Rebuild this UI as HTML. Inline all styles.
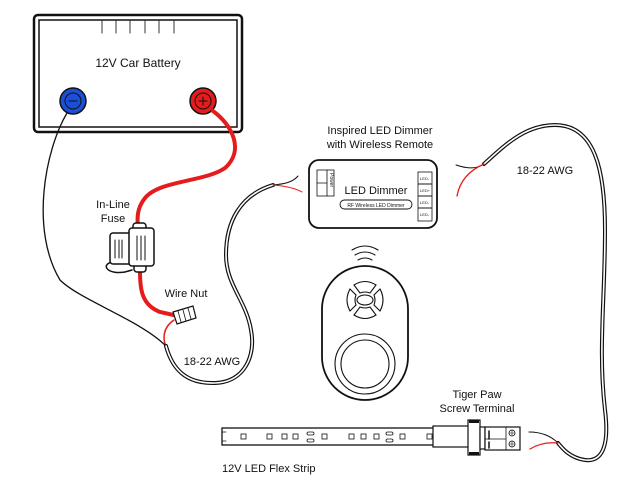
<!DOCTYPE html>
<html><head><style>html,body{margin:0;padding:0;background:#fff;}svg{display:block}</style></head>
<body>
<svg width="640" height="480" viewBox="0 0 640 480" xmlns="http://www.w3.org/2000/svg" font-family="'Liberation Sans', sans-serif" fill="none" stroke-linecap="round">
<!-- Battery -->
<rect x="34" y="15" width="208" height="117" rx="4" stroke="#111" stroke-width="2.5" fill="#fff"/>
<rect x="39" y="20" width="198" height="107" stroke="#111" stroke-width="1.5"/>
<g stroke="#333" stroke-width="1"><line x1="102" y1="21" x2="102" y2="33"/><line x1="116" y1="21" x2="116" y2="33"/><line x1="130" y1="21" x2="130" y2="33"/><line x1="145" y1="21" x2="145" y2="33"/><line x1="159" y1="21" x2="159" y2="33"/><line x1="174" y1="21" x2="174" y2="33"/></g>
<text x="138" y="67" font-size="12" fill="#111" text-anchor="middle">12V Car Battery</text>
<circle cx="73" cy="101" r="13" fill="#1a4fd8" stroke="#111" stroke-width="1.5"/>
<circle cx="73" cy="101" r="8" stroke="#111" stroke-width="1"/>
<line x1="69" y1="101" x2="77" y2="101" stroke="#111"/>
<circle cx="203" cy="101" r="13" fill="#e51c1c" stroke="#111" stroke-width="1.5"/>
<circle cx="203" cy="101" r="8" stroke="#111" stroke-width="1"/>
<path d="M199 101h8M203 97v8" stroke="#111"/>
<!-- red main wire -->
<path d="M213 111 C232 125 245 150 225 168 C205 182 160 180 145 198 C137 208 137 218 138 226" stroke="#e51c1c" stroke-width="4"/>
<path d="M140 272 C140 290 142 305 160 312 L178 316" stroke="#e51c1c" stroke-width="4"/>
<path d="M174 320 C162 328 163 340 166 346" stroke="#e51c1c" stroke-width="1.5"/>
<!-- black wire -->
<path d="M67 113 C45 150 30 230 60 280 C80 300 140 320 166 346" stroke="#111" stroke-width="1.3"/>
<!-- fuse -->
<g stroke="#111" stroke-width="1.5" fill="#fff">
<path d="M112 262 C100 265 108 275 125 272 L132 270"/>
<rect x="133" y="223" width="13" height="10" rx="3"/>
<rect x="134" y="262" width="12" height="10" rx="3"/>
<rect x="110" y="233" width="22" height="31" rx="3"/>
<rect x="129" y="228" width="25" height="38" rx="3"/>
<path d="M115 240v18M119 240v18M122 240v18M137 236v24M141 236v24M145 236v24" stroke-width="1"/>
</g>
<!-- wire nut -->
<g stroke="#111" stroke-width="1.2" fill="#fff"><path d="M173 312 L193 306 L196 318 L177 324 Z"/><path d="M178 311l3 11M183 310l3 11M188 308l3 11" stroke-width="0.8"/></g>
<!-- left cable -->
<path id="lc" d="M166 346 C172 368 185 384 215 383 C245 382 256 355 251 330 C246 300 226 285 226 255 C226 222 240 195 273 185" stroke="#111" stroke-width="4"/>
<path d="M166 346 C172 368 185 384 215 383 C245 382 256 355 251 330 C246 300 226 285 226 255 C226 222 240 195 273 185" stroke="#fff" stroke-width="1.6"/>
<path d="M273 185 C285 184 293 182 298 176" stroke="#111" stroke-width="1"/>
<path d="M273 185 C285 186 295 188 302 192" stroke="#e51c1c" stroke-width="1"/>
<!-- labels -->
<g fill="#111" font-size="11" text-anchor="middle">
<text x="113" y="208">In-Line</text><text x="113" y="222">Fuse</text>
<text x="186" y="297">Wire Nut</text>
<text x="212" y="365">18-22 AWG</text>
<text x="380" y="134">Inspired LED Dimmer</text>
<text x="380" y="148">with Wireless Remote</text>
<text x="545" y="174">18-22 AWG</text>
<text x="477" y="398">Tiger Paw</text>
<text x="477" y="412">Screw Terminal</text>
</g>
<text x="222" y="472" font-size="11" fill="#111">12V LED Flex Strip</text>
<!-- dimmer -->
<rect x="309" y="160" width="128" height="68" rx="10" stroke="#111" stroke-width="1.8" fill="#fff"/>
<rect x="317" y="170" width="17" height="26" stroke="#111" stroke-width="0.8"/>
<line x1="317" y1="183" x2="327" y2="183" stroke="#111" stroke-width="0.8"/><line x1="327" y1="170" x2="327" y2="196" stroke="#111" stroke-width="0.8"/>
<text x="330" y="173" font-size="5" fill="#111" transform="rotate(90 330 173)">Power</text>
<g stroke="#111" stroke-width="0.8"><rect x="418" y="172" width="14" height="12"/><rect x="418" y="184" width="14" height="12"/><rect x="418" y="196" width="14" height="12"/><rect x="418" y="208" width="14" height="13"/></g>
<g font-size="4" fill="#111"><text x="420" y="180">LED-</text><text x="420" y="192">LED+</text><text x="420" y="204">LED-</text><text x="420" y="216">LED-</text></g>
<text x="376" y="194" font-size="11" fill="#111" text-anchor="middle">LED Dimmer</text>
<rect x="340" y="200" width="72" height="9" rx="4.5" stroke="#111" stroke-width="0.9"/>
<text x="376" y="207" font-size="5" fill="#111" text-anchor="middle">RF Wireless LED Dimmer</text>
<!-- right cable -->
<path d="M484 164 C505 145 525 125 555 125 C595 125 605 170 605 230 C605 300 598 350 605 410 C610 450 600 462 585 460 C570 458 562 448 558 443" stroke="#111" stroke-width="4"/>
<path d="M484 164 C505 145 525 125 555 125 C595 125 605 170 605 230 C605 300 598 350 605 410 C610 450 600 462 585 460 C570 458 562 448 558 443" stroke="#fff" stroke-width="1.6"/>
<path d="M484 164 C475 170 465 168 456 165" stroke="#111" stroke-width="1"/>
<path d="M484 164 C470 170 460 180 457 196" stroke="#e51c1c" stroke-width="1.3"/>
<path d="M558 443 C550 435 540 432 529 432" stroke="#111" stroke-width="1"/>
<path d="M558 443 C548 442 538 444 530 449" stroke="#e51c1c" stroke-width="1.3"/>
<!-- remote -->
<g stroke="#111" stroke-width="1.1">
<path d="M352 250 Q365 242 378 250M355 255 Q365 249 375 255M358 260 Q365 256 372 260"/>
<rect x="322" y="266" width="86" height="134" rx="43" stroke-width="1.8" fill="#fff"/>
<ellipse cx="365" cy="300" rx="8" ry="5"/>
<path d="M354 285 Q365 278 376 285 L370 293 Q365 291 360 293 Z"/>
<path d="M354 315 Q365 322 376 315 L370 307 Q365 309 360 307 Z"/>
<path d="M350 289 Q344 300 350 311 L356 305 Q354 300 356 295 Z"/>
<path d="M380 289 Q386 300 380 311 L374 305 Q376 300 374 295 Z"/>
<circle cx="365" cy="364" r="30"/><circle cx="365" cy="364" r="24"/>
</g>
<!-- LED strip -->
<rect x="222" y="428" width="215" height="17" stroke="#111" stroke-width="1.3" fill="#fff"/>
<g stroke="#111" stroke-width="0.8">
<rect x="241" y="434" width="5" height="5"/><rect x="267" y="434" width="5" height="5"/><rect x="282" y="434" width="5" height="5"/><rect x="293" y="434" width="5" height="5"/><rect x="322" y="434" width="5" height="5"/>
<rect x="349" y="434" width="5" height="5"/><rect x="361" y="434" width="5" height="5"/><rect x="374" y="434" width="5" height="5"/><rect x="400" y="434" width="5" height="5"/>
<rect x="427" y="434" width="5" height="5"/><rect x="442" y="434" width="5" height="5"/><rect x="452" y="434" width="5" height="5"/>
<rect x="307" y="432" width="7" height="3" rx="1.5"/><rect x="307" y="439" width="7" height="3" rx="1.5"/>
<rect x="386" y="432" width="7" height="3" rx="1.5"/><rect x="386" y="439" width="7" height="3" rx="1.5"/>
<path d="M222 432h4M222 441h4"/>
</g>
<!-- tiger paw -->
<g stroke="#111" stroke-width="1.2" fill="#fff">
<rect x="433" y="426" width="36" height="21"/>
<rect x="468" y="420" width="12" height="35"/>
<rect x="480" y="427" width="5" height="22"/>
<rect x="485" y="427" width="35" height="23"/>
<path d="M489 431v8M489 442v6" stroke-width="1.5"/>
<line x1="485" y1="439" x2="506" y2="439" stroke-width="0.8"/>
<line x1="506" y1="427" x2="506" y2="450" stroke-width="0.8"/>
<circle cx="512" cy="433" r="3" stroke-width="0.8"/><circle cx="512" cy="444" r="3" stroke-width="0.8"/>
<path d="M509.5 433h5M512 430.5v5M509.5 444h5M512 441.5v5" stroke-width="0.6"/>
</g>
<rect x="469" y="420" width="10" height="3" fill="#111"/><rect x="469" y="452" width="10" height="3" fill="#111"/>
</svg>
</body></html>
